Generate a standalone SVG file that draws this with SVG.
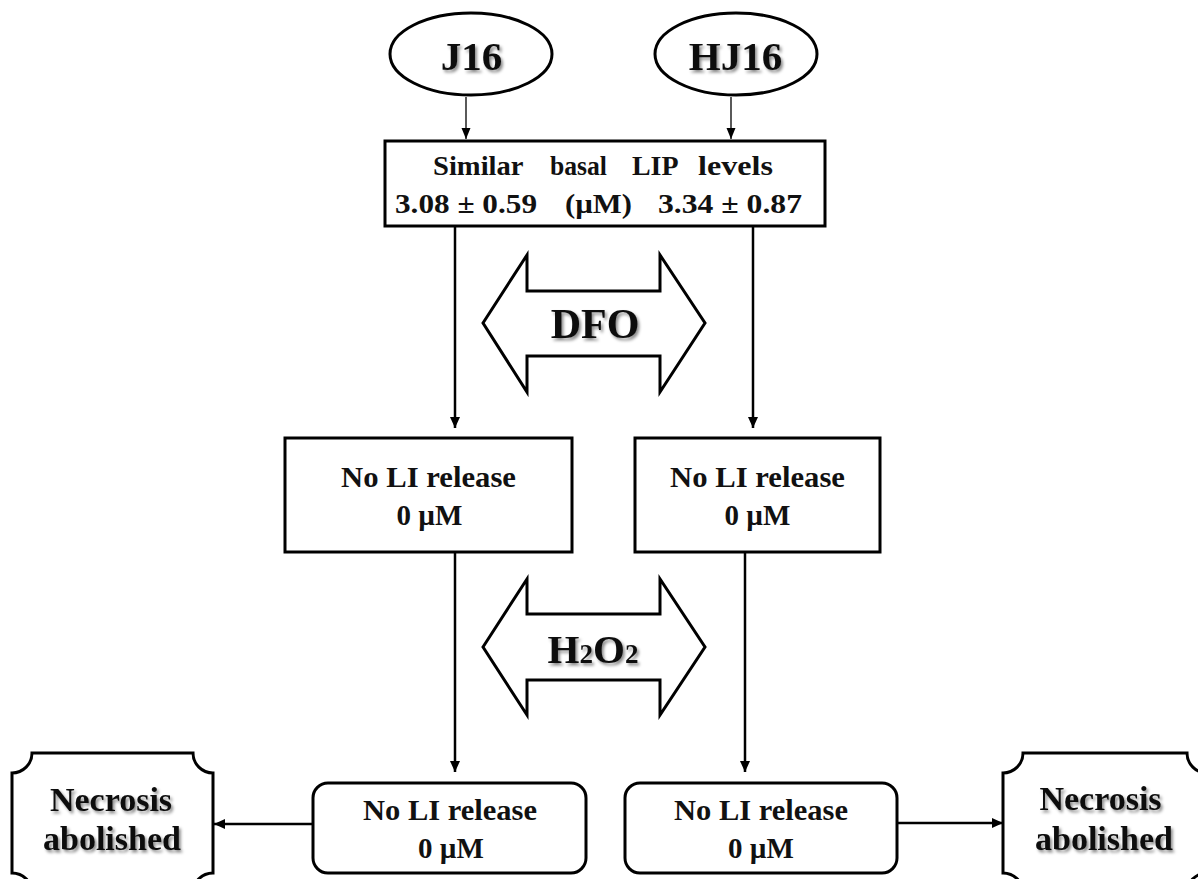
<svg xmlns="http://www.w3.org/2000/svg" width="1198" height="879" viewBox="0 0 1198 879">
<style>
.shape{fill:#fff;stroke:#000;stroke-width:3}
.t{font-family:"Liberation Serif","Times New Roman",serif;font-weight:bold;fill:#111;text-anchor:middle}
.big{font-size:41px}
.mid{font-size:29px}
.nec{font-size:34px}
.box{font-size:27px}
.sh{filter:url(#sh)}
.thin{stroke:#000;stroke-width:1.3;fill:none}
.thick{stroke:#000;stroke-width:2.5;fill:none}
</style>
<defs>
<filter id="sh" x="-20%" y="-30%" width="140%" height="170%">
<feDropShadow dx="2" dy="2.5" stdDeviation="1.6" flood-color="#000" flood-opacity="0.45"/>
</filter>
<marker id="ah" markerUnits="userSpaceOnUse" markerWidth="12" markerHeight="10" refX="11" refY="5" orient="auto">
<path d="M0,0 L11,5 L0,10 Z" fill="#000"/>
</marker>
<marker id="ahs" markerUnits="userSpaceOnUse" markerWidth="12" markerHeight="10" refX="11" refY="4.5" orient="auto">
<path d="M0,0 L11,4.5 L0,9 Z" fill="#000"/>
</marker>
</defs>
<rect width="1198" height="879" fill="#fff"/>

<g id="connectors">
<line class="thin" x1="466" y1="97" x2="466" y2="139" marker-end="url(#ahs)"/>
<line class="thin" x1="731" y1="97" x2="731" y2="139" marker-end="url(#ahs)"/>
<line class="thick" x1="455" y1="227" x2="455" y2="428" marker-end="url(#ah)"/>
<line class="thick" x1="753" y1="227" x2="753" y2="428" marker-end="url(#ah)"/>
<line class="thick" x1="455" y1="553" x2="455" y2="772" marker-end="url(#ah)"/>
<line class="thick" x1="745" y1="553" x2="745" y2="772" marker-end="url(#ah)"/>
<line class="thick" x1="313" y1="824" x2="214" y2="824" marker-end="url(#ah)"/>
<line class="thick" x1="897" y1="823" x2="1003" y2="823" marker-end="url(#ah)"/>
</g>

<g id="j16">
<ellipse class="shape" cx="471" cy="54" rx="81" ry="41"/>
<text class="t big sh" x="471.5" y="70">J16</text>
</g>
<g id="hj16">
<ellipse class="shape" cx="736" cy="54" rx="81" ry="41"/>
<text class="t big sh" x="735.5" y="70">HJ16</text>
</g>

<g id="basal">
<rect class="shape" x="385" y="141" width="440" height="85"/>
<text class="t box" y="175" style="text-anchor:start"><tspan x="433" textLength="90" lengthAdjust="spacingAndGlyphs">Similar</tspan> <tspan x="550" textLength="57" lengthAdjust="spacingAndGlyphs">basal</tspan> <tspan x="632" textLength="45" lengthAdjust="spacingAndGlyphs">LIP</tspan> <tspan x="698" textLength="75" lengthAdjust="spacingAndGlyphs">levels</tspan></text>
<text class="t box" y="213" style="text-anchor:start"><tspan x="395" textLength="142" lengthAdjust="spacingAndGlyphs">3.08 ± 0.59</tspan> <tspan x="565" textLength="67" lengthAdjust="spacingAndGlyphs">(µM)</tspan> <tspan x="658" textLength="144" lengthAdjust="spacingAndGlyphs">3.34 ± 0.87</tspan></text>
</g>

<g id="dfo">
<polygon class="shape" points="483,323 527,255 527,291 660,291 660,255 705,323 660,392 660,356 527,356 527,392"/>
<text class="t sh" x="595" y="338" style="font-size:42px">DFO</text>
</g>

<g id="left-mid">
<rect class="shape" x="285" y="438" width="287" height="114"/>
<text class="t mid" x="428.5" y="487" textLength="175" lengthAdjust="spacingAndGlyphs">No LI release</text>
<text class="t mid" x="429.5" y="525">0 µM</text>
</g>
<g id="right-mid">
<rect class="shape" x="635" y="438" width="245" height="114"/>
<text class="t mid" x="757.5" y="487" textLength="175" lengthAdjust="spacingAndGlyphs">No LI release</text>
<text class="t mid" x="757.5" y="525">0 µM</text>
</g>

<g id="h2o2">
<polygon class="shape" points="483,647 527,579 527,614 660,614 660,579 705,647 660,715 660,680 527,680 527,715"/>
<text class="t sh" x="593" y="663" style="font-size:41px">H<tspan style="font-size:27px">2</tspan>O<tspan style="font-size:27px">2</tspan></text>
</g>

<g id="left-bottom">
<rect class="shape" x="313" y="783" width="273" height="90" rx="15" ry="15"/>
<text class="t mid" x="450" y="820" textLength="174" lengthAdjust="spacingAndGlyphs">No LI release</text>
<text class="t mid" x="451" y="858">0 µM</text>
</g>
<g id="right-bottom">
<rect class="shape" x="625" y="783" width="272" height="90" rx="15" ry="15"/>
<text class="t mid" x="761" y="820" textLength="174" lengthAdjust="spacingAndGlyphs">No LI release</text>
<text class="t mid" x="761" y="858">0 µM</text>
</g>

<g id="left-necrosis">
<path class="shape" d="M32,753 H193 A20,20 0 0 0 213,773 V873 A20,20 0 0 0 193,893 H32 A20,20 0 0 0 12,873 V773 A20,20 0 0 0 32,753 Z"/>
<text class="t nec sh" x="111" y="811">Necrosis</text>
<text class="t nec sh" x="112" y="850">abolished</text>
</g>
<g id="right-necrosis">
<path class="shape" d="M1023,753 H1187 A20,20 0 0 0 1207,773 V873 A20,20 0 0 0 1187,893 H1023 A20,20 0 0 0 1003,873 V773 A20,20 0 0 0 1023,753 Z"/>
<text class="t nec sh" x="1100.5" y="810">Necrosis</text>
<text class="t nec sh" x="1104" y="850">abolished</text>
</g>
</svg>
